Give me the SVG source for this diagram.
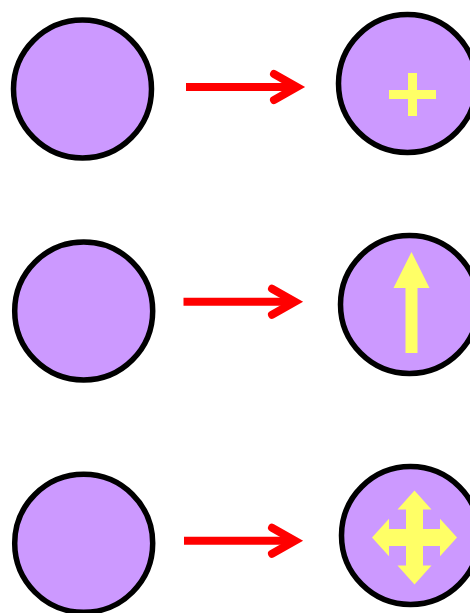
<svg xmlns="http://www.w3.org/2000/svg" width="470" height="613" viewBox="0 0 470 613">
<style>
.node{fill:#CC99FF;stroke:#000;stroke-width:5.5}
.icon{fill:#FFFF66;stroke:none}
.conn{fill:none;stroke:#FF0000;stroke-width:8;stroke-linecap:round;stroke-linejoin:miter}
.shaft{fill:none;stroke:#FF0000;stroke-width:8;stroke-linecap:butt}
</style>
<rect width="470" height="613" fill="#fff"/>
<g id="node-left-1"><circle class="node" cx="82.5" cy="89" r="69"/></g>
<g id="node-left-2"><circle class="node" cx="83.7" cy="311" r="69"/></g>
<g id="node-left-3"><circle class="node" cx="83.7" cy="543.3" r="69"/></g>
<g id="node-right-1"><circle class="node" cx="407.5" cy="83.5" r="69"/>
<rect class="icon" x="389" y="90" width="47" height="9"/>
<rect class="icon" x="408" y="73" width="9" height="43"/></g>
<g id="node-right-2"><circle class="node" cx="409.5" cy="304.5" r="69"/>
<polygon class="icon" points="411.5,252 429.5,288 417.5,288 417.5,353 405.5,353 405.5,288 393.5,288"/></g>
<g id="node-right-3"><circle class="node" cx="410.5" cy="535.5" r="69"/>
<polygon class="icon" points="414.5,490.5 431.5,509.5 423,509.5 423,529 440,529 440,518.8 457,537.5 440,556.2 440,546 423,546 423,565.5 431.5,565.5 414.5,584.5 397.5,565.5 406,565.5 406,546 389,546 389,556.2 372,537.5 389,518.8 389,529 406,529 406,509.5 397.5,509.5"/></g>
<g id="connectors">
<path class="shaft" d="M186,87 H296"/>
<polyline class="conn" points="274,74 297,87 274,100"/>
<path class="shaft" d="M183.5,301.7 H294"/>
<polyline class="conn" points="272,288.7 295,301.7 272,314.7"/>
<path class="shaft" d="M184,540.7 H294"/>
<polyline class="conn" points="272,527.7 295,540.7 272,553.7"/>
</g>
</svg>
